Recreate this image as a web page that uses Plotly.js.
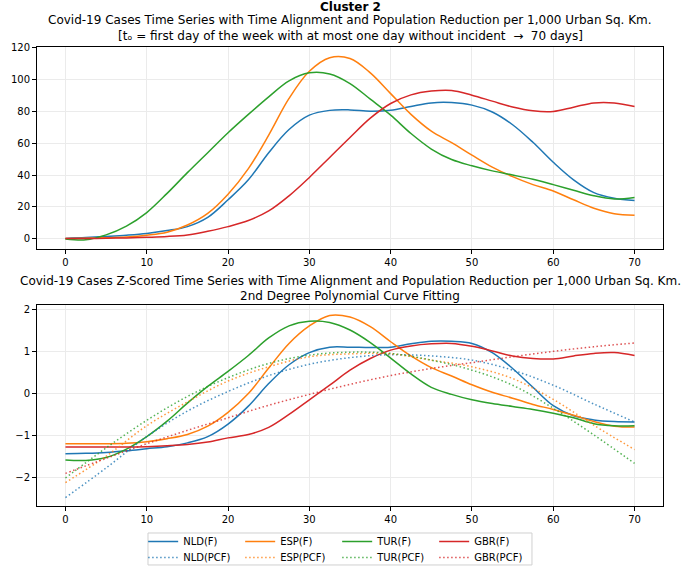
<!DOCTYPE html>
<html>
<head>
<meta charset="utf-8">
<script src="https://cdn.plot.ly/plotly-3.0.1.min.js"></script>
<style>
  html, body { margin: 0; padding: 0; background: #fff; }
  #chart { width: 685px; height: 567px; }
</style>
</head>
<body>
<div id="chart"></div>
<script>
// ---- data ----
const days = [0, 2.5, 5, 7.5, 10, 12.5, 15, 17.5, 20, 22.5, 25, 27.5, 30, 32.5, 35, 37.5, 40, 42.5, 45, 47.5, 50, 52.5, 55, 57.5, 60, 62.5, 65, 67.5, 70];
const daysPcf = [0, 5, 10, 15, 20, 25, 30, 35, 40, 45, 50, 55, 60, 65, 70];

// Top panel: cases per 1,000 urban sq. km (smoothed)
const nldF = [0.3, 0.8, 1.5, 2.3, 3.4, 5.2, 7.7, 13.5, 24.5, 37, 54, 68.5, 77.5, 80.5, 80.8, 80, 80.6, 83, 85.2, 85.4, 83.8, 79.5, 71.5, 60.5, 48, 37, 29, 25.5, 24];
const espF = [0.3, 0.4, 0.7, 1.2, 2.3, 4.2, 8.7, 16, 28, 44, 65, 88, 105, 113.5, 113, 104, 91, 78, 67.5, 60.3, 52.5, 45, 39, 34, 30, 24.5, 19.2, 15.8, 14.8];
const turF = [0, -0.6, 2.5, 8, 16.5, 28.5, 41.5, 54, 66.5, 78, 89, 99, 104, 103.3, 97.3, 87.5, 77.5, 66, 56.3, 49.7, 45.8, 42.6, 40, 37.3, 34, 30.5, 27, 25, 26];
const gbrF = [0.2, 0.2, 0.4, 0.6, 1.0, 1.5, 2.5, 4.8, 7.7, 11.5, 17.5, 27, 38.5, 51, 63.5, 75.6, 84.8, 90.2, 92.6, 93, 90, 86.3, 82.6, 80.2, 79.8, 82.5, 85.2, 85.2, 82.9];

// Bottom panel: z-scored series
const nldZ = [-1.44, -1.43, -1.41, -1.37, -1.32, -1.27, -1.18, -1.03, -0.73, -0.3, 0.24, 0.69, 0.98, 1.11, 1.11, 1.1, 1.11, 1.19, 1.25, 1.25, 1.2, 0.98, 0.6, 0.15, -0.29, -0.53, -0.63, -0.67, -0.68];
const espZ = [-1.2, -1.2, -1.2, -1.19, -1.15, -1.08, -0.98, -0.78, -0.45, 0.0, 0.61, 1.2, 1.62, 1.87, 1.83, 1.6, 1.24, 0.9, 0.62, 0.42, 0.21, 0.03, -0.11, -0.26, -0.38, -0.52, -0.67, -0.78, -0.8];
const turZ = [-1.59, -1.6, -1.53, -1.33, -1.03, -0.66, -0.23, 0.17, 0.53, 0.91, 1.33, 1.62, 1.73, 1.7, 1.52, 1.22, 0.85, 0.47, 0.15, -0.02, -0.15, -0.24, -0.31, -0.38, -0.47, -0.58, -0.72, -0.77, -0.77];
const gbrZ = [-1.28, -1.28, -1.28, -1.28, -1.27, -1.25, -1.22, -1.16, -1.06, -0.98, -0.81, -0.5, -0.15, 0.2, 0.56, 0.84, 1.04, 1.14, 1.19, 1.2, 1.13, 1.02, 0.9, 0.84, 0.83, 0.9, 0.96, 0.98, 0.91];

// Bottom panel: 2nd degree polynomial curve fits
const nldPcf = [-2.49, -1.78, -1.03, -0.42, 0.05, 0.43, 0.7, 0.86, 0.93, 0.9, 0.8, 0.56, 0.2, -0.25, -0.68];
const espPcf = [-2.13, -1.5, -0.77, -0.2, 0.3, 0.64, 0.88, 0.95, 0.95, 0.8, 0.64, 0.36, -0.14, -0.76, -1.34];
const turPcf = [-2.02, -1.3, -0.64, -0.07, 0.38, 0.72, 0.92, 0.99, 0.96, 0.8, 0.56, 0.2, -0.35, -0.99, -1.67];
const gbrPcf = [-1.91, -1.55, -1.2, -0.88, -0.58, -0.28, -0.02, 0.22, 0.43, 0.6, 0.74, 0.88, 1.01, 1.12, 1.21];

const names = ['NLD', 'ESP', 'TUR', 'GBR'];
const colors = ['#1f77b4', '#ff7f0e', '#2ca02c', '#d62728'];

const suptitle = 'Cluster 2';
const title1a = 'Covid-19 Cases Time Series with Time Alignment and Population Reduction per 1,000 Urban Sq. Km.';
const title1b = '[t\u2092 = first day of the week with at most one day without incident \u00a0\u2192\u00a0 70 days]';
const title2a = 'Covid-19 Cases Z-Scored Time Series with Time Alignment and Population Reduction per 1,000 Urban Sq. Km.';
const title2b = '2nd Degree Polynomial Curve Fitting';
const xTicks = [0, 10, 20, 30, 40, 50, 60, 70];

// ---- traces ----
const topSeries = [nldF, espF, turF, gbrF];
const zSeries = [nldZ, espZ, turZ, gbrZ];
const pcfSeries = [nldPcf, espPcf, turPcf, gbrPcf];

const traces = [];
names.forEach((n, i) => {
  traces.push({
    x: days, y: topSeries[i], xaxis: 'x', yaxis: 'y', mode: 'lines',
    line: { color: colors[i], width: 1.5, shape: 'spline', smoothing: 1 },
    showlegend: false, hoverinfo: 'skip'
  });
});
names.forEach((n, i) => {
  traces.push({
    x: days, y: zSeries[i], xaxis: 'x2', yaxis: 'y2', mode: 'lines', name: n + '(F)',
    line: { color: colors[i], width: 1.5, shape: 'spline', smoothing: 1 },
    legend: 'legend'
  });
});
names.forEach((n, i) => {
  traces.push({
    x: daysPcf, y: pcfSeries[i], xaxis: 'x2', yaxis: 'y2', mode: 'lines', name: n + '(PCF)',
    line: { color: colors[i], width: 1.5, dash: '1.5px,2.5px', shape: 'spline', smoothing: 1 },
    opacity: 0.8, legend: 'legend2'
  });
});

const tickFont = { family: 'DejaVu Sans', size: 10, color: '#000' };
const axisBase = {
  showline: true, mirror: true, linecolor: '#000', linewidth: 1,
  ticks: 'outside', ticklen: 4, tickwidth: 1, tickcolor: '#000',
  showgrid: true, gridcolor: '#ebebeb', gridwidth: 1, zeroline: false,
  tickfont: tickFont
};

const titleFont = { family: 'DejaVu Sans', size: 12, color: '#000' };
const legendBase = {
  orientation: 'h', xref: 'container', yref: 'container',
  x: 0.209, xanchor: 'left', yanchor: 'top',
  traceorder: 'normal', entrywidth: 52, entrywidthmode: 'pixels',
  borderwidth: 0, bgcolor: 'rgba(0,0,0,0)',
  font: { family: 'DejaVu Sans', size: 10, color: '#000' }
};

const layout = {
  width: 685, height: 567,
  margin: { l: 37, r: 22, t: 47, b: 61, autoexpand: false },
  paper_bgcolor: '#fff', plot_bgcolor: '#fff',
  font: { family: 'DejaVu Sans', color: '#000' },
  xaxis: Object.assign({}, axisBase, { domain: [0, 1], anchor: 'y', range: [-3.5, 73.5], tickvals: xTicks }),
  yaxis: Object.assign({}, axisBase, { domain: [0.56, 1], anchor: 'x', range: [-6.3, 120.2], tickvals: [0, 20, 40, 60, 80, 100, 120] }),
  xaxis2: Object.assign({}, axisBase, { domain: [0, 1], anchor: 'y2', range: [-3.5, 73.5], tickvals: xTicks }),
  yaxis2: Object.assign({}, axisBase, { domain: [0, 0.438], anchor: 'x2', range: [-2.69, 2.12], tickvals: [-2, -1, 0, 1, 2] }),
  showlegend: true,
  legend: Object.assign({}, legendBase, { y: 0.0705 }),
  legend2: Object.assign({}, legendBase, { y: 0.0423 }),
  shapes: [
    { type: 'rect', xref: 'paper', yref: 'paper', x0: 0.1773, x1: 0.7907, y0: -0.1285, y1: -0.0588,
      line: { color: '#d0d0d0', width: 1 }, fillcolor: 'rgba(0,0,0,0)', layer: 'below' }
  ],
  annotations: [
    { text: '<b>' + suptitle + '</b>', xref: 'paper', yref: 'paper', x: 0.5, y: 1.088, xanchor: 'center', yanchor: 'middle', showarrow: false, font: titleFont },
    { text: title1a, xref: 'paper', yref: 'paper', x: 0.5, y: 1.058, xanchor: 'center', yanchor: 'middle', showarrow: false, font: titleFont },
    { text: title1b, xref: 'paper', yref: 'paper', x: 0.5, y: 1.025, xanchor: 'center', yanchor: 'middle', showarrow: false, font: titleFont },
    { text: title2a, xref: 'paper', yref: 'paper', x: 0.5, y: 0.490, xanchor: 'center', yanchor: 'middle', showarrow: false, font: titleFont },
    { text: title2b, xref: 'paper', yref: 'paper', x: 0.5, y: 0.457, xanchor: 'center', yanchor: 'middle', showarrow: false, font: titleFont }
  ]
};

Plotly.newPlot('chart', traces, layout, { displayModeBar: false, staticPlot: true });
</script>
</body>
</html>
